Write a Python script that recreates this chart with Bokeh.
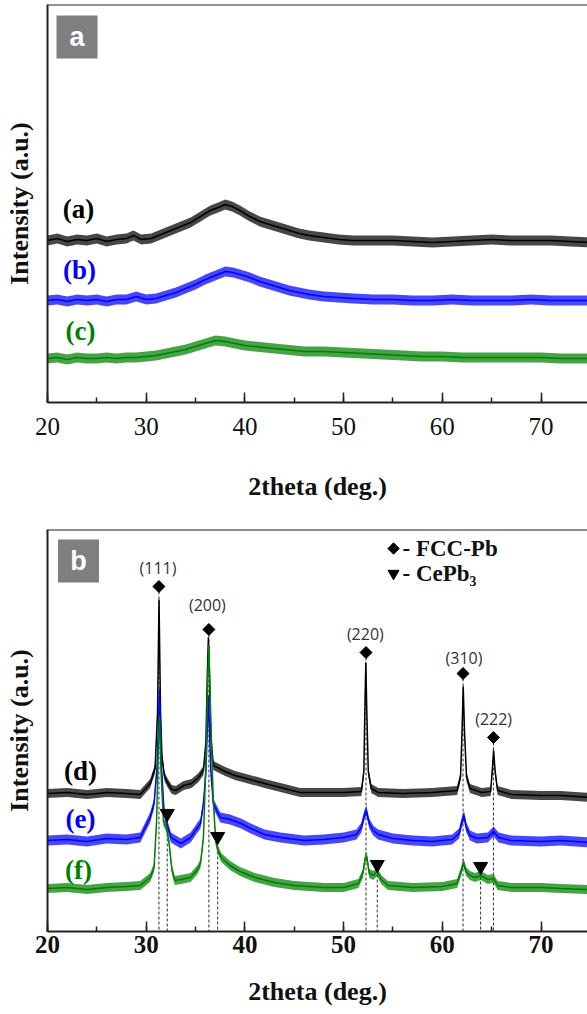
import numpy as np
from bokeh.plotting import figure
from bokeh.layouts import column
from bokeh.models import Range1d, SingleIntervalTicker, FixedTicker, Span
from bokeh.core.properties import value
from bokeh.embed import file_html
from bokeh.resources import INLINE

SERIF = "Liberation Serif"

# ---------------- Panel a data (intensity, a.u.) ----------------
a_x = [20, 21, 22, 23, 24, 25, 26, 27, 28, 28.7, 29.5, 30.5, 31.5, 32.5, 33.5, 34.5, 35.5, 36.5, 37.3, 38,
       38.7, 39.5, 40.5, 41.5, 42.5, 43.5, 44.5, 45.5, 46.5, 48, 49.5, 51, 53, 55, 57, 59, 61, 63, 65, 67,
       69, 71, 73, 75]
a_y = [162, 164, 161, 163, 162, 164, 161, 163, 164, 167, 163, 164, 168, 172, 176, 180, 186, 192, 195, 198,
       196, 192, 186, 181, 178, 175, 172, 169, 167, 165, 163, 162, 162, 162, 161, 160, 161, 162, 163, 162,
       162, 162, 161, 160]

b_x = [20, 21, 22, 23, 24, 25, 26, 27, 28, 29, 30, 31, 32, 33, 34, 35, 36, 37, 38, 38.8, 39.5, 40.5, 41.5,
       42.5, 43.5, 44.5, 45.5, 46.5, 48, 49.5, 51, 53, 55, 57, 59, 61, 63, 65, 67, 69, 71, 73, 75]
b_y = [102, 103, 101, 103, 102, 103, 101, 103, 103, 106, 103, 104, 107, 110, 114, 118, 123, 127, 131, 130,
       128, 125, 121, 118, 115, 112, 110, 108, 106, 105, 104, 103, 103, 102, 102, 103, 102, 102, 102, 103,
       102, 102, 102]

c_x = [20, 21, 22, 23, 24, 25, 26, 27, 28, 29, 30, 31, 32, 33, 34, 35, 36, 37, 38, 39, 40, 41, 42, 43, 44,
       45, 46, 47, 48, 50, 52, 54, 56, 58, 60, 62, 64, 66, 68, 70, 72, 75]
c_y = [44, 45, 43, 45, 44, 44, 45, 44, 45, 45, 46, 47, 49, 51, 53, 56, 59, 62, 61, 59, 57, 56, 55, 54, 53,
       52, 51, 51, 51, 50, 49, 48, 47, 46, 46, 45, 45, 45, 45, 45, 44, 44]

# ---------------- Panel b data (intensity, a.u.) ----------------
d_x = [20, 22, 24, 26, 28, 29.4, 30.4, 30.9, 31.15, 31.3, 31.45, 31.6, 31.85, 32.2, 32.6, 33.0, 33.8, 34.6,
       35.3, 35.8, 36.05, 36.2, 36.3, 36.4, 36.55, 36.8, 37.2, 38.0, 39.0, 40.5, 42.0, 43.6, 45.6, 48, 50,
       51.8, 52.05, 52.15, 52.25, 52.35, 52.5, 52.8, 53.5, 56, 59, 61.5, 61.85, 62.0, 62.12, 62.25, 62.45,
       62.8, 64.0, 64.9, 65.05, 65.2, 65.35, 65.6, 67, 70, 72, 75]
d_y = [138, 139, 137, 139, 138, 137, 148, 163, 220, 332, 220, 175, 155, 148, 142, 141, 146, 148,
       154, 161, 190, 260, 294, 260, 195, 166, 164, 160, 156, 152, 148, 144, 139, 139, 139,
       140, 160, 220, 269, 220, 160, 143, 139, 138, 139, 141, 155, 200, 245, 200, 155,
       143, 139, 140, 160, 181, 160, 141, 137, 136, 136, 134]

e_x = [20, 22, 24, 26, 28, 29.4, 30.4, 30.8, 31.1, 31.35, 31.55, 31.8, 32.1, 32.5, 33.5, 34.5, 35.2, 35.5,
       35.8, 36.05, 36.3, 36.55, 36.8, 37.5, 38.5, 39.6, 40.6, 42, 43.6, 46, 48, 50, 51.3, 51.8, 52.1, 52.3,
       52.6, 53.0, 53.5, 55, 57, 59, 61, 61.7, 62.0, 62.2, 62.4, 62.8, 63.5, 64.6, 65.2, 65.7, 67, 70, 72, 75]
e_y = [91, 92, 90, 93, 92, 94, 114, 128, 165, 242, 165, 121, 108, 94, 88, 94, 104, 108,
       128, 160, 235, 160, 128, 114, 112, 108, 103, 97, 94, 91, 92, 94, 97, 104, 116, 121,
       108, 101, 97, 93, 91, 90, 92, 98, 110, 116, 105, 96, 93, 94, 100, 94, 91, 90, 91, 89]

f_x = [20, 22, 24, 26, 28, 29.4, 30.4, 30.8, 31.05, 31.25, 31.35, 31.5, 31.75, 32.05, 32.3, 32.6, 32.9,
       33.5, 34.5, 35.2, 35.5, 35.8, 36.05, 36.25, 36.35, 36.55, 36.8, 37.05, 37.25, 37.6, 38.5, 39.5, 41,
       43, 45, 48, 50, 51.5, 51.95, 52.2, 52.35, 52.6, 53.0, 53.4, 53.8, 54.5, 57, 60, 61.5, 61.9, 62.15,
       62.4, 62.8, 63.3, 63.9, 64.6, 65.2, 65.6, 67, 70, 72, 75]
f_y = [43, 44, 42, 44, 45, 46, 54, 64, 110, 190, 215, 160, 110, 104, 90, 62, 51,
       52, 54, 62, 68, 94, 170, 260, 286, 210, 130, 90, 82, 74, 66, 60, 54,
       49, 46, 44, 44, 48, 58, 74, 75, 58, 56, 60, 52, 46, 44, 45, 48, 60, 69,
       60, 56, 54, 56, 52, 53, 46, 44, 44, 43, 42]

# Reflections
fcc_pos = [31.29, 36.35, 52.27, 62.10, 65.18]
fcc_hkl = ["(111)", "(200)", "(220)", "(310)", "(222)"]
fcc_mark_y = [345, 302, 279, 258, 194]
fcc_label_y = [364, 327, 298, 274, 213]
fcc_label_x = [31.2, 36.2, 52.2, 62.2, 65.2]
cepb_pos = [32.13, 37.24, 53.41, 63.88]
cepb_mark_y = [118, 95, 67, 65]

BLACK, BLUE, GREEN = "#000000", "#0000ff", "#008000"
GRAY_BOX = "#7f7f7f"


def make_fig(height, top, bottom, yr, bold_ticks, tick_standoff, label_standoff):
    p = figure(width=587, height=height, x_range=Range1d(20, 74.71), y_range=Range1d(*yr),
               min_border_left=47, min_border_right=0, min_border_top=top, min_border_bottom=bottom,
               output_backend="svg", toolbar_location=None)
    p.outline_line_color = None
    p.xgrid.visible = False
    p.ygrid.visible = False
    xa = p.xaxis[0]
    xa.ticker = SingleIntervalTicker(interval=10, num_minor_ticks=2)
    xa.major_tick_in = 10
    xa.major_tick_out = 0
    xa.minor_tick_in = 5
    xa.minor_tick_out = 0
    xa.axis_line_width = 2
    xa.axis_line_color = "#222222"
    xa.major_tick_line_width = 1.5
    xa.minor_tick_line_width = 1.5
    xa.major_tick_line_color = "#222222"
    xa.minor_tick_line_color = "#222222"
    xa.major_label_text_font = SERIF
    xa.major_label_text_font_size = "25px"
    xa.major_label_text_font_style = "bold" if bold_ticks else "normal"
    xa.major_label_text_color = "#111111"
    xa.major_label_standoff = tick_standoff
    xa.axis_label = "2theta (deg.)"
    xa.axis_label_text_font = SERIF
    xa.axis_label_text_font_size = "26px"
    xa.axis_label_text_font_style = "bold"
    xa.axis_label_text_color = "#111111"
    xa.axis_label_standoff = label_standoff
    ya = p.yaxis[0]
    ya.ticker = FixedTicker(ticks=[])
    ya.major_tick_in = 0
    ya.major_tick_out = 0
    ya.minor_tick_in = 0
    ya.minor_tick_out = 0
    ya.major_label_standoff = 0
    ya.axis_line_width = 2
    ya.axis_line_color = "#222222"
    ya.axis_label = "Intensity (a.u.)"
    ya.axis_label_text_font = SERIF
    ya.axis_label_text_font_size = "26px"
    ya.axis_label_text_font_style = "bold"
    ya.axis_label_text_color = "#111111"
    ya.axis_label_standoff = 14
    p.add_layout(Span(location=yr[1], dimension="width", line_color="#222222", line_width=2))
    return p


def trace(p, xs, ys, color, half):
    y = np.array(ys, dtype=float)
    p.varea(x=xs, y1=y - half, y2=y + half, fill_color=color, fill_alpha=0.72)
    p.line(xs, ys, line_color=color, line_width=1.5)


def tag(p, x, y, text, color):
    p.text(x=[x], y=[y], text=[text], text_color=color, text_font=value(SERIF),
           text_font_style="bold", text_font_size="27px", text_align="center", text_baseline="middle")


def panel_box(p, x, y, letter):
    p.rect(x=[x], y=[y], width=41, height=43, width_units="screen", height_units="screen",
           fill_color=GRAY_BOX, line_color=None)
    p.text(x=[x], y=[y], text=[letter], text_color="white", text_font=value("Liberation Sans"),
           text_font_style="bold", text_font_size="27px", text_align="center", text_baseline="middle")


# ---------------- Panel a ----------------
pa = make_fig(527, 4, 125, (0, 398), False, 15, 34)
trace(pa, a_x, a_y, BLACK, 5)
trace(pa, b_x, b_y, BLUE, 5)
trace(pa, c_x, c_y, GREEN, 5)
tag(pa, 23.14, 194, "(a)", BLACK)
tag(pa, 23.24, 133, "(b)", BLUE)
tag(pa, 23.34, 72, "(c)", GREEN)
panel_box(pa, 22.99, 365.5, "a")

# ---------------- Panel b ----------------
pb = make_fig(487, 2, 83, (0, 402), True, 4, 21)
pb.segment(x0=fcc_pos, y0=fcc_mark_y, x1=fcc_pos, y1=[0] * len(fcc_pos), line_color="#333333",
           line_dash="3 2", line_width=1)
pb.segment(x0=cepb_pos, y0=cepb_mark_y, x1=cepb_pos, y1=[0] * len(cepb_pos), line_color="#333333",
           line_dash="3 2", line_width=1)
trace(pb, d_x, d_y, BLACK, 4.5)
trace(pb, e_x, e_y, BLUE, 5)
trace(pb, f_x, f_y, GREEN, 4.5)
pb.scatter(x=fcc_pos, y=fcc_mark_y, marker="square", angle=np.pi / 4, size=8.5, fill_color="black",
           line_color="black")
pb.scatter(x=cepb_pos, y=cepb_mark_y, marker="inverted_triangle", size=14, fill_color="black",
           line_color="black")
pb.text(x=fcc_label_x, y=fcc_label_y, text=fcc_hkl, text_color="#333333", text_font=value("Open Sans"),
        text_font_size="16px", text_align="center", text_baseline="middle")
tag(pb, 23.34, 161, "(d)", BLACK)
tag(pb, 23.34, 113, "(e)", BLUE)
tag(pb, 23.14, 62, "(f)", GREEN)
panel_box(pb, 23.14, 370.5, "b")

# legend
leg_marker_x = 55.06
leg_text_x = 55.97
pb.scatter(x=[leg_marker_x], y=[383], marker="square", angle=np.pi / 4, size=8, fill_color="black",
           line_color="black")
pb.scatter(x=[leg_marker_x], y=[358], marker="inverted_triangle", size=11, fill_color="black",
           line_color="black")
pb.text(x=[leg_text_x, leg_text_x], y=[383, 358], text=["- FCC-Pb", "- CePb\u2083"], text_color="#111111",
        text_font=value(SERIF), text_font_style="bold", text_font_size="23px", text_align="left",
        text_baseline="middle")

layout = column(pa, pb)
open("out.html", "w").write(file_html(layout, INLINE))
